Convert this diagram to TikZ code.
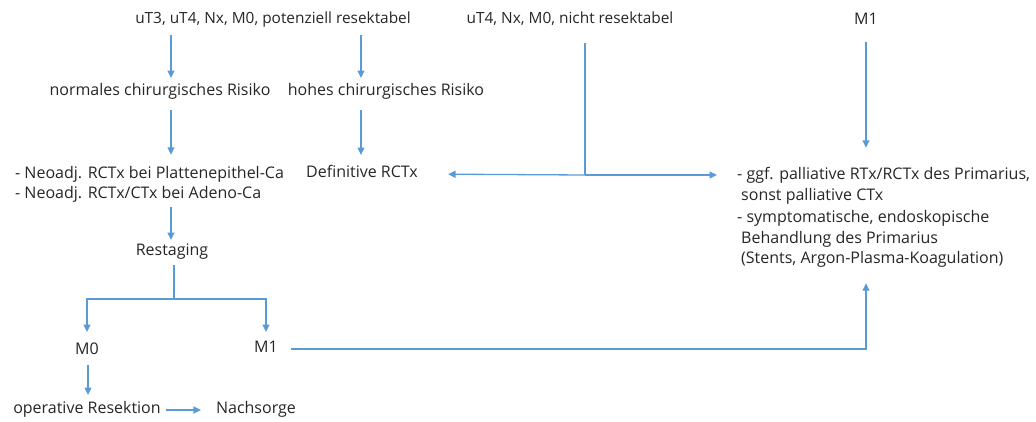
\documentclass[tikz,border=0pt]{standalone}
\usepackage{fontspec}
\setmainfont{Open Sans}
\usetikzlibrary{arrows.meta}
\definecolor{arrowblue}{HTML}{5B9BD5}
\definecolor{txt}{HTML}{262626}
\begin{document}
\begin{tikzpicture}[x=1pt,y=-1pt,
  lbl/.style={inner sep=0pt,text height=11pt,text depth=3.6pt,text=txt,font=\fontsize{16}{20}\selectfont},
  toplbl/.style={lbl,font=\fontsize{15.4}{20}\selectfont},
  multi/.style={inner sep=0pt,anchor=base west,text=txt},
  arr/.style={draw=arrowblue,line width=1.3pt,-{Triangle[width=7pt,length=7.5pt]}},
  ln/.style={draw=arrowblue,line width=1.3pt},
  sh/.style 2 args={shorten <=#1,shorten >=#2}]
\useasboundingbox (0,0) rectangle (1036,421);
% named x positions
\coordinate (x171) at (171,0);
\coordinate (x361) at (361,0);
\coordinate (x174) at (174,0);
\coordinate (x88) at (88,0);
\coordinate (x866) at (866,0);
\coordinate (x585) at (585,0);
% nodes
\node[toplbl] (top1) at (273,20) {uT3, uT4, Nx, M0, potenziell resektabel};
\node[toplbl] (top2) at (570,20) {uT4, Nx, M0, nicht resektabel};
\node[lbl] (topm1) at (866,21) {M1};
\node[lbl] (normal) at (160,92) {normales chirurgisches Risiko};
\node[lbl] (hohes) at (386,92) {hohes chirurgisches Risiko};
\node[lbl] (def) at (362,174) {Definitive RCTx};
\node[multi] (neo) at (15,178) {\fontsize{16}{20}\selectfont\begin{tabular}[t]{@{}l@{}}
- Neoadj. RCTx bei Plattenepithel-Ca\\
- Neoadj. RCTx/CTx bei Adeno-Ca
\end{tabular}};
\node[multi] (pall) at (737,179) {\fontsize{16}{21}\selectfont\begin{tabular}[t]{@{}l@{}}
- ggf. palliative RTx/RCTx des Primarius,\\
\hspace*{4pt}sonst palliative CTx\\[1pt]
- symptomatische, endoskopische\\
\hspace*{4pt}Behandlung des Primarius\\[-1pt]
\hspace*{4pt}(Stents, Argon-Plasma-Koagulation)
\end{tabular}};
\node[lbl] (rest) at (172,252) {Restaging};
\node[lbl] (m0) at (87,351) {M0};
\node[lbl] (m1) at (266,349) {M1};
\node[lbl] (op) at (87,410) {operative Resektion};
\node[lbl] (nach) at (256,410) {Nachsorge};
\coordinate (split) at (174,299);
\coordinate (jn) at (585,175);
% connectors
\draw[arr,sh={7pt}{6.5pt}] (top1.south -| x171) -- (normal.north -| x171);
\draw[arr,sh={7pt}{6.5pt}] (top1.south -| x361) -- (hohes.north -| x361);
\draw[arr,sh={10.5pt}{9pt}] (normal.south -| x171) -- (neo.north -| x171);
\draw[arr,sh={10.5pt}{11.5pt}] (hohes.south -| x361) -- (def.north -| x361);
\draw[arr,sh={3pt}{4.5pt}] (neo.south -| x171) -- (rest.north -| x171);
\draw[ln,shorten <=5.5pt] (rest.south -| x174) -- (split);
\draw[arr,shorten >=11.5pt] (split) -| (m0.north);
\draw[arr,shorten >=9.5pt] (split) -| (m1.north);
\draw[arr,sh={6.5pt}{7.5pt}] (m0.south -| x88) -- (op.north -| x88);
\draw[arr,sh={5pt}{15pt}] (op.east) -- (nach.west);
\draw[arr,sh={13pt}{13.7pt}] (m1.east) -| (pall.south -| x866);
\draw[arr,sh={13.5pt}{16.3pt}] (topm1.south -| x866) -- (pall.north -| x866);
\draw[ln,shorten <=15pt] (top2.south -| x585) -- (jn);
\draw[arr,shorten >=30pt] (jn) -- (def.east);
\draw[arr,shorten >=20pt] (jn) -- (pall.west |- jn);
\end{tikzpicture}
\end{document}
